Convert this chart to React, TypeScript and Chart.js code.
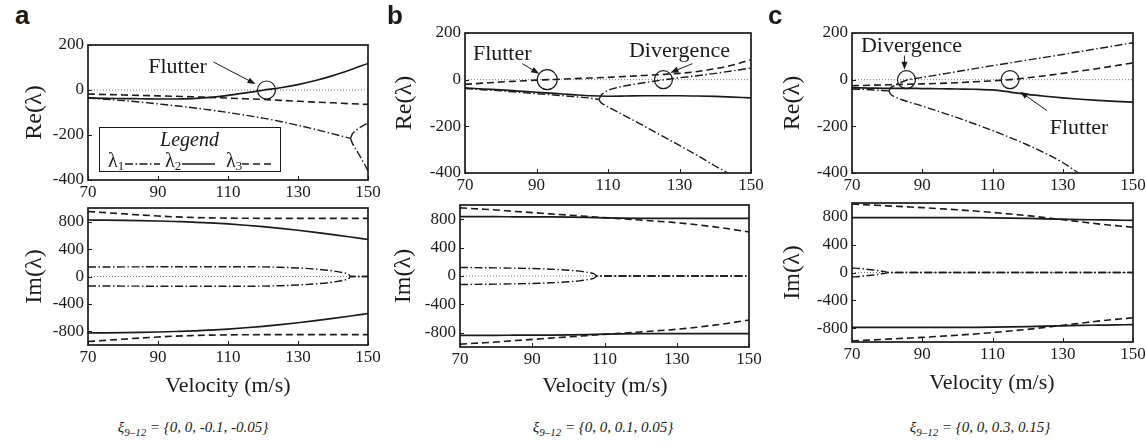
import React, { useEffect, useRef } from 'react';
import { Chart, registerables } from 'chart.js';
Chart.register(...registerables);

const SERIF = '"Liberation Serif", "Times New Roman", serif';
const SANS = '"Liberation Sans", Arial, sans-serif';
const INK = '#1a1a1a';

// ---------- shared axis values ----------
const V = [70, 75, 80, 85, 90, 95, 100, 105, 110, 115, 120, 125, 130, 135, 140, 145, 150];
const X_TICKS = [70, 90, 110, 130, 150];
const RE_TICKS = [-400, -200, 0, 200];
const IM_TICKS = [-800, -400, 0, 400, 800];

// ---------- panel a ----------
const aRe2 = [-35, -37, -38, -39, -40, -40, -38, -33, -24, -13, -1, 10, 24, 42, 64, 90, 118];
const aRe3 = [-18, -20, -22, -24, -26, -28, -30, -33, -36, -39, -42, -46, -50, -54, -57, -61, -64];
const aV1 = [70, 75, 80, 85, 90, 95, 100, 105, 110, 115, 120, 125, 130, 135, 140, 145];
const aRe1 = [-35, -41, -47, -54, -62, -70, -79, -89, -100, -112, -125, -140, -157, -175, -195, -215];
const aV1s = [145, 145.5, 146, 147, 148, 149, 150];
const aRe1U = [-215, -196, -187, -174, -164, -155, -147];
const aRe1L = [-215, -236, -250, -275, -302, -330, -360];
const aIm2 = [825, 823, 820, 816, 810, 803, 795, 782, 767, 748, 727, 703, 675, 645, 612, 577, 540];
const aIm3 = [950, 932, 915, 898, 883, 870, 862, 856, 852, 850, 849, 849, 849, 849, 849, 849, 849];
const aVi1 = [70, 80, 90, 100, 110, 120, 125, 130, 135, 140, 143, 144.5, 145, 150];
const aIm1 = [138, 140, 142, 143, 143, 140, 134, 124, 108, 82, 54, 30, 0, 0];

// ---------- panel b ----------
const bRe3 = [-20, -15, -10, -6, -2, 1, 4, 7, 10, 14, 18, 22, 27, 35, 47, 63, 85];
const bRe2 = [-35, -40, -44, -49, -54, -59, -64, -69, -71, -70, -69, -69, -69, -70, -72, -75, -78];
const bV1 = [70, 75, 80, 85, 90, 95, 100, 105, 107.5];
const bRe1 = [-38, -43, -48, -54, -60, -66, -72, -79, -85];
const bV1U = [107.5, 108, 109, 110, 112, 115, 120, 125, 130, 135, 140, 145, 150];
const bRe1U = [-85, -68, -55, -46, -36, -26, -13, -2, 8, 17, 27, 38, 50];
const bV1L = [107.5, 108, 109, 110, 112, 115, 120, 125, 130, 135, 140, 143.5];
const bRe1L = [-85, -98, -108, -117, -133, -157, -198, -240, -282, -325, -370, -400];
const bIm2 = [835, 835, 835, 834, 833, 832, 830, 826, 818, 814, 812, 812, 812, 812, 812, 812, 812];
const bIm3 = [960, 945, 930, 910, 893, 875, 858, 840, 822, 805, 788, 770, 750, 725, 695, 660, 620];
const bVi1 = [70, 80, 90, 95, 100, 103, 105, 107, 108, 150];
const bIm1 = [120, 115, 105, 96, 82, 68, 54, 32, 0, 0];

// ---------- panel c ----------
const cRe3 = [-26, -24, -22, -20, -18, -16, -13, -9, -5, 0, 8, 17, 27, 37, 48, 60, 72];
const cRe2 = [-35, -36, -37, -37, -38, -39, -40, -41, -44, -53, -63, -71, -78, -84, -89, -93, -96];
const cV1 = [70, 75, 80.5];
const cRe1 = [-40, -43, -48];
const cV1U = [80.5, 81, 82, 83, 84, 86, 88, 90, 95, 100, 110, 120, 130, 140, 150];
const cRe1U = [-48, -35, -26, -18, -11, 0, 5, 10, 22, 35, 60, 84, 108, 133, 158];
const cV1L = [80.5, 81, 82, 84, 86, 90, 95, 100, 105, 110, 115, 120, 125, 130, 134.5];
const cRe1L = [-48, -62, -72, -85, -95, -113, -138, -163, -190, -218, -248, -280, -315, -355, -400];
const cIm2 = [790, 790, 790, 790, 790, 790, 790, 789, 787, 783, 778, 772, 767, 762, 758, 754, 750];
const cIm3 = [985, 972, 959, 946, 933, 918, 902, 884, 864, 842, 818, 790, 760, 730, 700, 675, 652];
const cVi1 = [70, 72, 74, 76, 78, 79.5, 80.5, 150];
const cIm1 = [65, 58, 48, 36, 22, 12, 0, 0];

const ZERO_X = [70, 150];
const ZERO_Y = [0, 0];

// ---------- styles ----------
const DASHDOT = [8, 2.5, 1.5, 2.5];
const DASHED = [7, 4];
const SOLID: number[] = [];
const PADL = 80, PADT = 15, PADR = 15, PADB = 30;
const TICK_FONT = 17;

const neg = (ys: number[]) => ys.map((v) => -v);
function ds(xs: number[], ys: number[], dash: number[], width = 1.5, color = INK) {
  return {
    data: ys.map((y, i) => ({ x: xs[i], y })),
    borderColor: color,
    borderWidth: width,
    borderDash: dash,
    pointRadius: 0,
    fill: false,
    cubicInterpolationMode: 'monotone',
  };
}
const zeroLine = () => ds(ZERO_X, ZERO_Y, [1, 2], 1, '#777');

type Annot = { cx: number; r: number; text: string; tdx: number; tdy: number; arrow: number[] };
type Sub = {
  key: string;
  box: { l: number; t: number; r: number; b: number };
  yMin: number; yMax: number; yTicks: number[];
  title: string; titleOff: number;
  datasets: any[];
  annots: Annot[];
  legend?: boolean;
};

const LW_DD = 1.4, LW_S = 1.7, LW_D = 1.6;

const SUBS: Sub[] = [
  {
    key: 'aRe', box: { l: 88, t: 45, r: 368, b: 180 }, yMin: -400, yMax: 200, yTicks: RE_TICKS,
    title: 'Re(λ)', titleOff: 53,
    datasets: [ds(aV1, aRe1, DASHDOT, LW_DD), ds(aV1s, aRe1U, DASHDOT, LW_DD), ds(aV1s, aRe1L, DASHDOT, LW_DD),
      ds(V, aRe2, SOLID, LW_S), ds(V, aRe3, DASHED, LW_D), zeroLine()],
    annots: [{ cx: 121, r: 9, text: 'Flutter', tdx: -89, tdy: -23, arrow: [-53, -28, -11, -6] }],
    legend: true,
  },
  {
    key: 'aIm', box: { l: 88, t: 208, r: 368, b: 345 }, yMin: -1000, yMax: 1000, yTicks: IM_TICKS,
    title: 'Im(λ)', titleOff: 53,
    datasets: [ds(aVi1, aIm1, DASHDOT, LW_DD), ds(aVi1, neg(aIm1), DASHDOT, LW_DD),
      ds(V, aIm2, SOLID, LW_S), ds(V, neg(aIm2), SOLID, LW_S),
      ds(V, aIm3, DASHED, LW_D), ds(V, neg(aIm3), DASHED, LW_D), zeroLine()],
    annots: [],
  },
  {
    key: 'bRe', box: { l: 465, t: 33, r: 751, b: 173 }, yMin: -400, yMax: 200, yTicks: RE_TICKS,
    title: 'Re(λ)', titleOff: 60,
    datasets: [ds(bV1, bRe1, DASHDOT, LW_DD), ds(bV1U, bRe1U, DASHDOT, LW_DD), ds(bV1L, bRe1L, DASHDOT, LW_DD),
      ds(V, bRe2, SOLID, LW_S), ds(V, bRe3, DASHED, LW_D), zeroLine()],
    annots: [
      { cx: 93, r: 10, text: 'Flutter', tdx: -45, tdy: -25, arrow: [-25, -16, -8, -6] },
      { cx: 125.5, r: 9, text: 'Divergence', tdx: 16, tdy: -28, arrow: [29, -16, 7, -7] },
    ],
  },
  {
    key: 'bIm', box: { l: 460, t: 205, r: 749, b: 347 }, yMin: -1000, yMax: 1000, yTicks: IM_TICKS,
    title: 'Im(λ)', titleOff: 56,
    datasets: [ds(bVi1, bIm1, DASHDOT, LW_DD), ds(bVi1, neg(bIm1), DASHDOT, LW_DD),
      ds(V, bIm2, SOLID, LW_S), ds(V, neg(bIm2), SOLID, LW_S),
      ds(V, bIm3, DASHED, LW_D), ds(V, neg(bIm3), DASHED, LW_D), zeroLine()],
    annots: [],
  },
  {
    key: 'cRe', box: { l: 852, t: 33, r: 1133, b: 173 }, yMin: -400, yMax: 200, yTicks: RE_TICKS,
    title: 'Re(λ)', titleOff: 59,
    datasets: [ds(cV1, cRe1, DASHDOT, LW_DD), ds(cV1U, cRe1U, DASHDOT, LW_DD), ds(cV1L, cRe1L, DASHDOT, LW_DD),
      ds(V, cRe2, SOLID, LW_S), ds(V, cRe3, DASHED, LW_D), zeroLine()],
    annots: [
      { cx: 85.5, r: 9, text: 'Divergence', tdx: 5, tdy: -33, arrow: [-2, -24, -2, -10] },
      { cx: 115, r: 9, text: 'Flutter', tdx: 69, tdy: 49, arrow: [37, 31, 10, 12] },
    ],
  },
  {
    key: 'cIm', box: { l: 852, t: 203, r: 1133, b: 342 }, yMin: -1000, yMax: 1000, yTicks: IM_TICKS,
    title: 'Im(λ)', titleOff: 59,
    datasets: [ds(cVi1, cIm1, DASHDOT, LW_DD), ds(cVi1, neg(cIm1), DASHDOT, LW_DD),
      ds(V, cIm2, SOLID, LW_S), ds(V, neg(cIm2), SOLID, LW_S),
      ds(V, cIm3, DASHED, LW_D), ds(V, neg(cIm3), DASHED, LW_D), zeroLine()],
    annots: [],
  },
];

function drawArrow(ctx: CanvasRenderingContext2D, x0: number, y0: number, x1: number, y1: number) {
  const ang = Math.atan2(y1 - y0, x1 - x0);
  const L = 8, W = 3;
  ctx.beginPath();
  ctx.moveTo(x0, y0);
  ctx.lineTo(x1 - Math.cos(ang) * L * 0.8, y1 - Math.sin(ang) * L * 0.8);
  ctx.stroke();
  ctx.beginPath();
  ctx.moveTo(x1, y1);
  ctx.lineTo(x1 - Math.cos(ang) * L - Math.sin(ang) * W, y1 - Math.sin(ang) * L + Math.cos(ang) * W);
  ctx.lineTo(x1 - Math.cos(ang) * L + Math.sin(ang) * W, y1 - Math.sin(ang) * L - Math.cos(ang) * W);
  ctx.closePath();
  ctx.fill();
}

function lambda(ctx: CanvasRenderingContext2D, x: number, y: number, sub: string) {
  ctx.textAlign = 'left';
  ctx.textBaseline = 'middle';
  ctx.font = `20px ${SERIF}`;
  ctx.fillText('λ', x, y);
  const w = ctx.measureText('λ').width;
  ctx.font = `13px ${SERIF}`;
  ctx.fillText(sub, x + w, y + 5);
}

function drawLegend(ctx: CanvasRenderingContext2D, ca: any) {
  const x0 = Math.round(ca.left) + 11, y0 = Math.round(ca.top) + 82, w = 181, h = 44;
  ctx.save();
  ctx.fillStyle = '#fff';
  ctx.fillRect(x0, y0, w, h);
  ctx.strokeStyle = INK;
  ctx.fillStyle = INK;
  ctx.lineWidth = 1;
  ctx.setLineDash([]);
  ctx.strokeRect(x0 + 0.5, y0 + 0.5, w, h);
  ctx.font = `italic 20px ${SERIF}`;
  ctx.textAlign = 'center';
  ctx.textBaseline = 'middle';
  ctx.fillText('Legend', x0 + w / 2, y0 + 14);
  const ry = y0 + 35;
  const items: [number, number[], string, number, number][] = [
    [9, DASHDOT, '1', 26, 61],
    [66, SOLID, '2', 83, 116],
    [127, DASHED, '3', 143, 175],
  ];
  for (const [lx, dash, s, a, b] of items) {
    lambda(ctx, x0 + lx, ry, s);
    ctx.beginPath();
    ctx.setLineDash(dash);
    ctx.lineWidth = 1.5;
    ctx.moveTo(x0 + a, ry + 2);
    ctx.lineTo(x0 + b, ry + 2);
    ctx.stroke();
  }
  ctx.restore();
}

function drawFrame(chart: any, cfg: Sub) {
  const ctx: CanvasRenderingContext2D = chart.ctx;
  const ca = chart.chartArea;
  const xs = chart.scales.x, ys = chart.scales.y;
  ctx.save();
  ctx.setLineDash([]);
  ctx.strokeStyle = INK;
  ctx.fillStyle = INK;
  ctx.lineWidth = 1;
  ctx.beginPath();
  for (const v of cfg.yTicks) {
    const y = Math.round(ys.getPixelForValue(v)) + 0.5;
    ctx.moveTo(ca.left, y);
    ctx.lineTo(ca.left + 4, y);
  }
  for (const v of X_TICKS) {
    const x = Math.round(xs.getPixelForValue(v)) + 0.5;
    ctx.moveTo(x, ca.bottom);
    ctx.lineTo(x, ca.bottom - 4);
  }
  ctx.stroke();
  ctx.lineWidth = 1.7;
  ctx.strokeRect(ca.left, ca.top, ca.right - ca.left, ca.bottom - ca.top);
  ctx.save();
  ctx.translate(ca.left - cfg.titleOff, (ca.top + ca.bottom) / 2);
  ctx.rotate(-Math.PI / 2);
  ctx.font = `24px ${SERIF}`;
  ctx.textAlign = 'center';
  ctx.textBaseline = 'middle';
  ctx.fillText(cfg.title, 0, 0);
  ctx.restore();
  for (const an of cfg.annots) {
    const cx = xs.getPixelForValue(an.cx);
    const cy = ys.getPixelForValue(0);
    ctx.lineWidth = 1.2;
    ctx.beginPath();
    ctx.arc(cx, cy, an.r, 0, Math.PI * 2);
    ctx.stroke();
    ctx.font = `22px ${SERIF}`;
    ctx.textAlign = 'center';
    ctx.textBaseline = 'middle';
    ctx.fillText(an.text, cx + an.tdx, cy + an.tdy);
    ctx.lineWidth = 1;
    const [x0, y0, x1, y1] = an.arrow;
    drawArrow(ctx, cx + x0, cy + y0, cx + x1, cy + y1);
  }
  ctx.restore();
  if (cfg.legend) drawLegend(ctx, ca);
}

function SubChart({ cfg }: { cfg: Sub }) {
  const ref = useRef<HTMLCanvasElement>(null);
  const w = cfg.box.r - cfg.box.l + PADL + PADR;
  const h = cfg.box.b - cfg.box.t + PADT + PADB;
  useEffect(() => {
    const canvas = ref.current!;
    const plugin = { id: 'frame_' + cfg.key, afterDraw: (chart: any) => drawFrame(chart, cfg) };
    const chart = new Chart(canvas, {
      type: 'line',
      data: { datasets: cfg.datasets as any },
      options: {
        animation: false,
        responsive: false,
        maintainAspectRatio: false,
        devicePixelRatio: 1,
        events: [],
        layout: { padding: { left: 0, top: PADT, right: PADR, bottom: 0 } },
        plugins: { legend: { display: false }, tooltip: { enabled: false } },
        scales: {
          x: {
            type: 'linear', min: 70, max: 150,
            afterBuildTicks: (s: any) => { s.ticks = X_TICKS.map((v) => ({ value: v })); },
            ticks: { font: { family: SERIF, size: TICK_FONT }, color: INK, padding: 2, maxRotation: 0, autoSkip: false, callback: (v: any) => String(v) },
            grid: { display: false, drawTicks: false },
            border: { display: false },
            afterFit: (s: any) => { s.height = PADB; },
          },
          y: {
            type: 'linear', min: cfg.yMin, max: cfg.yMax,
            afterBuildTicks: (s: any) => { s.ticks = cfg.yTicks.map((v) => ({ value: v })); },
            ticks: { font: { family: SERIF, size: TICK_FONT }, color: INK, padding: 4, autoSkip: false, callback: (v: any) => String(v) },
            grid: { display: false, drawTicks: false },
            border: { display: false },
            afterFit: (s: any) => { s.width = PADL; },
          },
        },
      } as any,
      plugins: [plugin],
    });
    return () => chart.destroy();
  }, []);
  return (
    <canvas
      ref={ref}
      width={w}
      height={h}
      style={{ position: 'absolute', left: cfg.box.l - PADL, top: cfg.box.t - PADT, width: w, height: h }}
    />
  );
}

const LETTERS = [
  { t: 'a', x: 15, y: 2 },
  { t: 'b', x: 387, y: 2 },
  { t: 'c', x: 768, y: 2 },
];
const XTITLES = [
  { x: 228, y: 385 },
  { x: 605, y: 385 },
  { x: 992, y: 382 },
];
const CAPTIONS = [
  { x: 193, y: 428, v: '{0, 0, -0.1, -0.05}' },
  { x: 603, y: 428, v: '{0, 0, 0.1, 0.05}' },
  { x: 980, y: 428, v: '{0, 0, 0.3, 0.15}' },
];

export default function App() {
  return (
    <div style={{ position: 'absolute', left: 0, top: 0, width: 1146, height: 442, background: '#fff', overflow: 'hidden' }}>
      {SUBS.map((s) => <SubChart key={s.key} cfg={s} />)}
      {LETTERS.map((l) => (
        <div key={l.t} style={{ position: 'absolute', left: l.x, top: l.y, fontFamily: SANS, fontWeight: 'bold', fontSize: 26, lineHeight: '26px', color: INK }}>{l.t}</div>
      ))}
      {XTITLES.map((p, i) => (
        <div key={i} style={{ position: 'absolute', left: p.x, top: p.y, transform: 'translate(-50%, -50%)', fontFamily: SERIF, fontSize: 22, whiteSpace: 'nowrap', color: INK }}>Velocity (m/s)</div>
      ))}
      {CAPTIONS.map((p, i) => (
        <div key={i} style={{ position: 'absolute', left: p.x, top: p.y, transform: 'translate(-50%, -50%)', fontFamily: SERIF, fontStyle: 'italic', fontSize: 15, whiteSpace: 'nowrap', color: INK }}>
          ξ<sub style={{ fontSize: 11 }}>9–12</sub> = {p.v}
        </div>
      ))}
    </div>
  );
}
